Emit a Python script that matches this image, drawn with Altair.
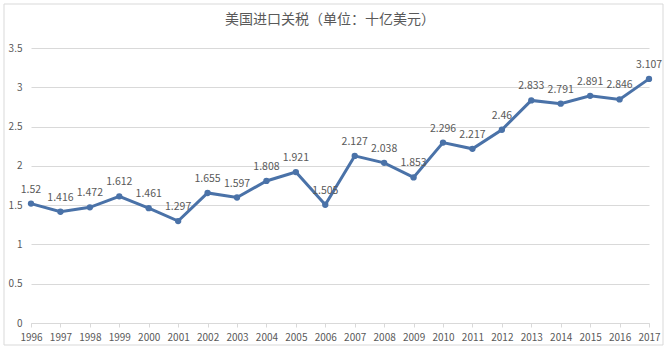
import altair as alt
import pandas as pd

years = [str(y) for y in range(1996, 2018)]
values = [1.52, 1.416, 1.472, 1.612, 1.461, 1.297, 1.655, 1.597, 1.808, 1.921, 1.505,
          2.127, 2.038, 1.853, 2.296, 2.217, 2.46, 2.833, 2.791, 2.891, 2.846, 3.107]
labels = ["1.52", "1.416", "1.472", "1.612", "1.461", "1.297", "1.655", "1.597", "1.808", "1.921", "1.505",
          "2.127", "2.038", "1.853", "2.296", "2.217", "2.46", "2.833", "2.791", "2.891", "2.846", "3.107"]
title_text = "美国进口关税（单位：十亿美元）"

df = pd.DataFrame({"year": years, "value": values, "label": labels})

LINE = "#4a72a8"
GRAY = "#595959"
FONT = "Noto Sans CJK SC"

x = alt.X("year:O", scale=alt.Scale(type="point", padding=0),
          axis=alt.Axis(title=None, labelAngle=0, labelFontSize=10, labelColor=GRAY,
                        labelFont=FONT, domainColor="#d9d9d9", tickColor="#d9d9d9",
                        tickSize=4, labelPadding=5, grid=False))
y = alt.Y("value:Q", scale=alt.Scale(domain=[0, 3.5], nice=False),
          axis=alt.Axis(title=None, values=[0, 0.5, 1, 1.5, 2, 2.5, 3, 3.5], format="~g",
                        labelFontSize=10, labelColor=GRAY, labelFont=FONT,
                        domain=False, ticks=False, labelPadding=9,
                        gridColor="#d9d9d9", gridWidth=1))

base = alt.Chart(df)

line = base.mark_line(color=LINE, strokeWidth=3).encode(x=x, y=y)
pts = base.mark_point(color=LINE, filled=True, size=40, opacity=1).encode(x=x, y=y)
txt = base.mark_text(dy=-14, fontSize=10.5, color=GRAY, font=FONT).encode(x=x, y=y, text="label:N")

one = pd.DataFrame({"t": [title_text]})
frame = alt.Chart(one).mark_rect(
    fill=None, stroke="#d9d9d9", strokeWidth=1, clip=False
).encode(x=alt.value(-27), x2=alt.value(632), y=alt.value(-44), y2=alt.value(297))

title = alt.Chart(one).mark_text(
    font=FONT, fontSize=14, color=GRAY, baseline="middle", align="center"
).encode(x=alt.value(299), y=alt.value(-28), text="t:N")

chart = alt.layer(frame, line, pts, txt, title).properties(
    width=618, height=275,
    autosize=alt.AutoSizeParams(type="none"),
    padding={"left": 31, "top": 48, "right": 18, "bottom": 29},
    background="white",
).configure_view(stroke=None)

chart.save("out.html", embed_options={"renderer": "svg", "actions": False})
